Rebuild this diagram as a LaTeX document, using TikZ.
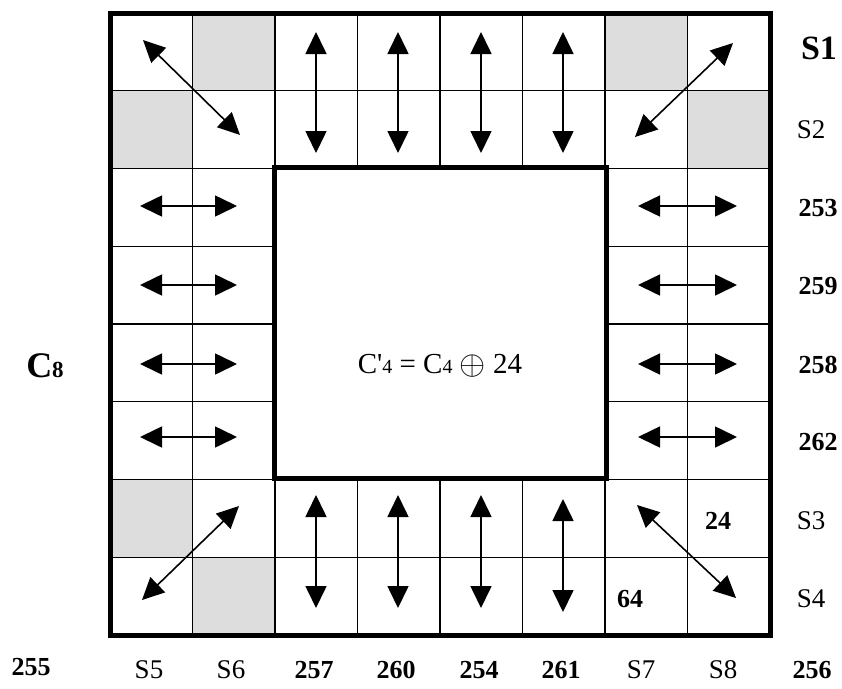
\documentclass[tikz,border=0pt]{standalone}
\usepackage{fontspec}
\setmainfont{Liberation Serif}
\usetikzlibrary{arrows.meta}
\definecolor{cellgray}{HTML}{DDDDDD}
\begin{document}
\begin{tikzpicture}[x=1pt,y=-1pt,
  gridline/.style={line width=1.3pt},
  thickbox/.style={line width=5pt},
  dbl/.style={line width=1.6pt,{Triangle[length=22pt,width=21pt]}-{Triangle[length=22pt,width=21pt]}},
  graycell/.style={fill=cellgray,draw=none},
  lbl/.style={inner sep=0pt,font=\fontsize{27}{27}\selectfont},
  blbl/.style={inner sep=0pt,font=\fontsize{26}{26}\selectfont\bfseries}]
\useasboundingbox (0,0) rectangle (842,688);
% gray cells
\foreach \c/\r in {1/0,6/0,0/1,7/1,0/6,1/7}
  \fill[graycell] (110+82.5*\c,13+77.75*\r) rectangle (110+82.5*\c+82.5,13+77.75*\r+77.75);
% grid
\foreach \i in {1,...,7} {
  \draw[gridline] (110+82.5*\i,13) -- (110+82.5*\i,635);
  \draw[gridline] (110,13+77.75*\i) -- (770,13+77.75*\i);
}
% inner box
\node[thickbox,draw,fill=white,minimum width=332pt,minimum height=311pt,inner sep=0pt] (inner) at (440,323) {};
\node[inner sep=0pt,font=\fontsize{29}{29}\selectfont] (formula) at (440,366)
  {C\textquotesingle{\fontsize{20}{20}\selectfont 4} = C{\fontsize{20}{20}\selectfont 4} \raisebox{-0.5pt}{\scalebox{1.35}{$\oplus$}} 24};
% outer box
\node[thickbox,draw,minimum width=660pt,minimum height=622pt,inner sep=0pt] (outer) at (440,324) {};
% diagonal arrows
\coordinate (tla) at (143,40); \coordinate (tlb) at (240,135);
\coordinate (tra) at (733,43); \coordinate (trb) at (635,137);
\coordinate (bla) at (239,506); \coordinate (blb) at (142,600);
\coordinate (bra) at (637,505); \coordinate (brb) at (736,598);
\draw[dbl] (tla) -- (tlb);
\draw[dbl] (tra) -- (trb);
\draw[dbl] (bla) -- (blb);
\draw[dbl] (bra) -- (brb);
% vertical arrows
\foreach \k/\x/\ta/\tb/\ba/\bb in {a/316/32/153/495/608, b/398/32/153/495/608, c/481/32/153/495/608, d/563/32/153/499/612} {
  \coordinate (vt\k1) at (\x,\ta); \coordinate (vt\k2) at (\x,\tb);
  \coordinate (vb\k1) at (\x,\ba); \coordinate (vb\k2) at (\x,\bb);
  \draw[dbl] (vt\k1) -- (vt\k2);
  \draw[dbl] (vb\k1) -- (vb\k2);
}
% horizontal arrows
\foreach \k/\y in {a/206, b/285, c/364, d/437} {
  \coordinate (hl\k1) at (140,\y); \coordinate (hl\k2) at (237,\y);
  \coordinate (hr\k1) at (638,\y); \coordinate (hr\k2) at (737,\y);
  \draw[dbl] (hl\k1) -- (hl\k2);
  \draw[dbl] (hr\k1) -- (hr\k2);
}
% right labels
\node[inner sep=0pt,font=\fontsize{34}{34}\selectfont\bfseries] (s1) at (819,48) {S1};
\node[lbl] (s2) at (811,130) {S2};
\node[blbl] (n253) at (818,208) {253};
\node[blbl] (n259) at (818,286) {259};
\node[blbl] (n258) at (818,365) {258};
\node[blbl] (n262) at (818,442) {262};
\node[lbl] (s3) at (811,521) {S3};
\node[lbl] (s4) at (811,599) {S4};
% bottom labels
\node[blbl] (n255) at (31,667) {255};
\node[lbl] (s5) at (149,670) {S5};
\node[lbl] (s6) at (231,670) {S6};
\node[blbl] (n257) at (314,670) {257};
\node[blbl] (n260) at (396,670) {260};
\node[blbl] (n254) at (479,670) {254};
\node[blbl] (n261) at (561,670) {261};
\node[lbl] (s7) at (641,670) {S7};
\node[lbl] (s8) at (723,670) {S8};
\node[blbl] (n256) at (812,670) {256};
% left label
\node[inner sep=0pt,font=\fontsize{36}{36}\selectfont\bfseries] (c8) at (45,366) {C{\fontsize{23}{23}\selectfont 8}};
% cell numbers
\node[blbl] (n24) at (718,521) {24};
\node[blbl] (n64) at (630,599) {64};
\end{tikzpicture}
\end{document}
